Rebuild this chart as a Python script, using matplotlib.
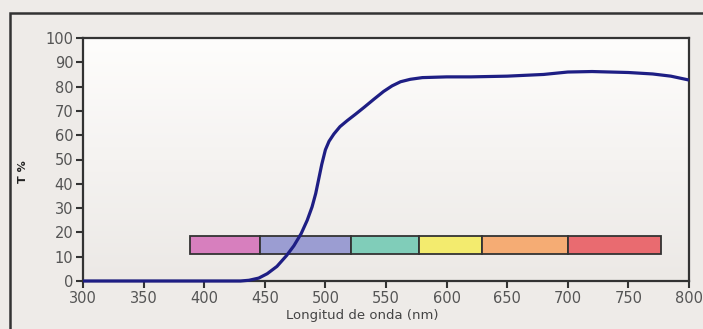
import matplotlib
matplotlib.use("Agg")
import matplotlib.pyplot as plt
import numpy as np
from matplotlib.colors import LinearSegmentedColormap
from matplotlib.patches import Rectangle

# transmission curve
wavelength = [300, 350, 400, 430, 437, 445, 452, 460, 468, 474, 480, 485, 489, 492,
              494.5, 497, 500, 503, 507, 512, 518, 525, 532, 540, 548, 555, 562, 570,
              580, 600, 620, 650, 680, 700, 720, 750, 770, 785, 800]
transmission = [0, 0, 0, 0, 0.3, 1.2, 3, 6, 10.5, 14.5, 19.5, 25, 30.5, 36,
                42, 48, 54, 57.5, 60.5, 63.5, 66, 68.7, 71.5, 74.8, 78, 80.3, 82, 83,
                83.7, 84, 84, 84.3, 85, 86, 86.2, 85.8, 85.2, 84.3, 82.7]

# visible spectrum bands
band_edges = [388, 446, 521, 577, 629, 700, 777]
band_colors = ['#D77FBE', '#9B9DD2', '#80CDB9', '#F3EB6E', '#F5AC74', '#E96B70']
band_low, band_high = 11, 18.5

xticks = list(range(300, 801, 50))
yticks = list(range(0, 101, 10))

fig = plt.figure(figsize=(7.03, 3.29), dpi=100, facecolor='#EEEBE8')
ax = fig.add_axes([83 / 703, 1 - 281 / 329, 606 / 703, 243 / 329])

# soft vertical gradient behind the plot
grad = LinearSegmentedColormap.from_list('bg', ['#ECE9E6', '#FEFDFC'])
ax.imshow(np.linspace(0, 1, 100)[:, None], extent=[300, 800, 0, 100], origin='lower',
          aspect='auto', cmap=grad, zorder=0)

for i in range(len(band_colors)):
    ax.barh((band_low + band_high) / 2, band_edges[i + 1] - band_edges[i],
            left=band_edges[i], height=band_high - band_low, color=band_colors[i],
            edgecolor='#333333', linewidth=1.3, zorder=2)

ax.plot(wavelength, transmission, color='#1E1E84', lw=2.3, zorder=3,
        solid_capstyle='butt', solid_joinstyle='round', clip_on=False)

ax.set_xlim(300, 800)
ax.set_ylim(0, 100)
ax.set_xticks(xticks)
ax.set_yticks(yticks)
ax.tick_params(axis='both', direction='out', length=5, width=1.5, color='#333333',
               labelsize=10.5, labelcolor='#555555', pad=2)
for s in ax.spines.values():
    s.set_color('#333333')
    s.set_linewidth(1.6)

fig.text(362 / 703, 1 - 315 / 329, 'Longitud de onda (nm)', ha='center', va='center',
         fontsize=9.5, color='#444444')
fig.text(23 / 703, 1 - 172 / 329, 'T %', rotation=90, ha='center', va='center',
         fontsize=8, fontweight='bold', color='#222222')

# outer frame, cut off at the right and bottom
top = 1 - 12.5 / 329
fig.add_artist(Rectangle((9.5 / 703, -0.2), 1.2, top + 0.2, transform=fig.transFigure,
                         fill=False, edgecolor='#333333', linewidth=1.8))

fig.savefig('out.png', dpi=100, facecolor=fig.get_facecolor())
